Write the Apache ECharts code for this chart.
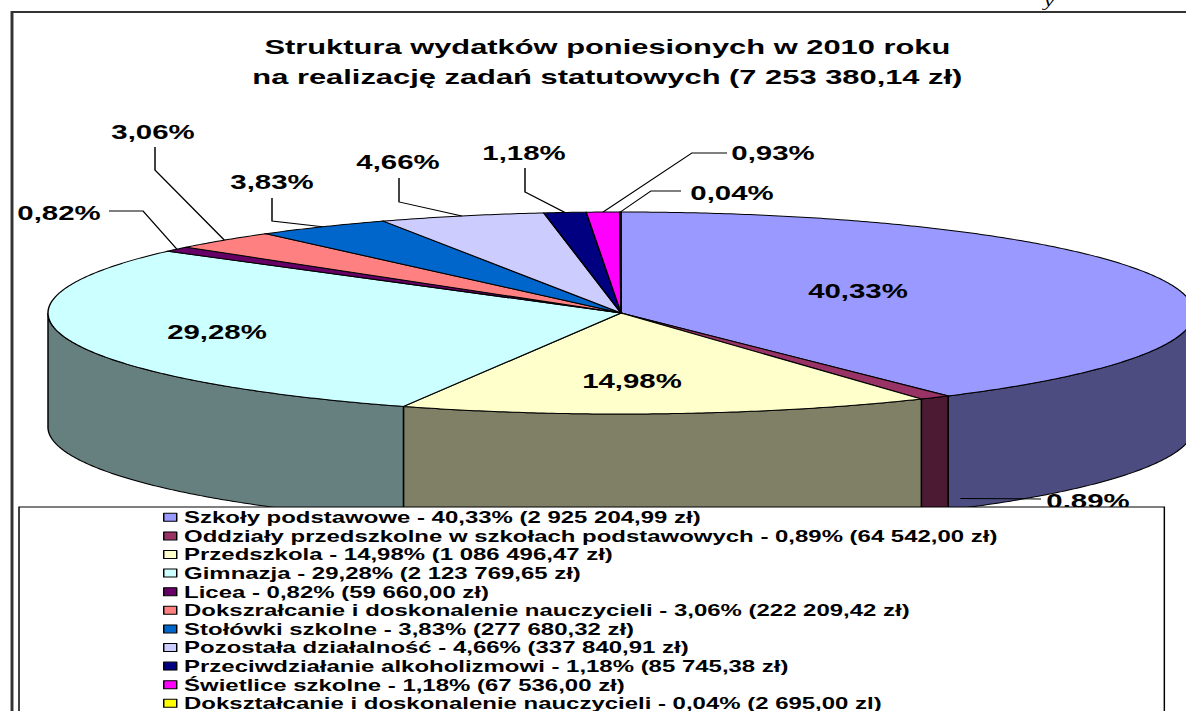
<!DOCTYPE html>
<html>
<head>
<meta charset="utf-8">
<script src="https://cdn.jsdelivr.net/npm/echarts@6/dist/echarts.min.js"></script>
<style>
html, body { margin: 0; padding: 0; background: #fff; overflow: hidden; }
/* the source picture is stretched sideways, so draw narrow and stretch */
#chart { width: 807px; height: 711px; transform: scaleX(1.47); transform-origin: 0 0; }
</style>
</head>
<body>
<div id="chart"></div>
<script>
var names = [
    'Szkoły podstawowe',
    'Oddziały przedszkolne w szkołach podstawowych',
    'Przedszkola',
    'Gimnazja',
    'Licea',
    'Dokszrałcanie i doskonalenie nauczycieli',
    'Stołówki szkolne',
    'Pozostała działalność',
    'Przeciwdziałanie alkoholizmowi',
    'Świetlice szkolne',
    'Dokształcanie i doskonalenie nauczycieli'
];
var amounts = [2925204.99, 64542.00, 1086496.47, 2123769.65, 59660.00, 222209.42,
    277680.32, 337840.91, 85745.38, 67536.00, 2695.00];
var legendLabels = [
    'Szkoły podstawowe - 40,33% (2 925 204,99 zł)',
    'Oddziały przedszkolne w szkołach podstawowych - 0,89% (64 542,00 zł)',
    'Przedszkola - 14,98% (1 086 496,47 zł)',
    'Gimnazja - 29,28% (2 123 769,65 zł)',
    'Licea - 0,82% (59 660,00 zł)',
    'Dokszrałcanie i doskonalenie nauczycieli - 3,06% (222 209,42 zł)',
    'Stołówki szkolne - 3,83% (277 680,32 zł)',
    'Pozostała działalność - 4,66% (337 840,91 zł)',
    'Przeciwdziałanie alkoholizmowi - 1,18% (85 745,38 zł)',
    'Świetlice szkolne - 1,18% (67 536,00 zł)',
    'Dokształcanie i doskonalenie nauczycieli - 0,04% (2 695,00 zl)'
];
var topColors = ['#9999FF', '#993366', '#FFFFCC', '#CCFFFF', '#660066', '#FF8080',
    '#0066CC', '#CCCCFF', '#000080', '#FF00FF', '#FFFF00'];
var sideColors = ['#4C4C80', '#4D1A33', '#808066', '#668080', '#330033', '#804040',
    '#003366', '#666680', '#000040', '#800080', '#808000'];

var SX = 1.47;
function X(x) { return x / SX; }

// label spots in screen pixels (text centre, then leader elbows)
var labelSpots = [
    { at: [858, 291] },
    { at: [1088, 501], path: [[1041, 499]], side: true },
    { at: [632, 381] },
    { at: [217, 332] },
    { at: [59, 213], path: [[109, 211], [143, 211]] },
    { at: [153, 132], path: [[155, 147], [155, 170]] },
    { at: [272, 182], path: [[272, 198], [272, 221]] },
    { at: [398, 162], path: [[399, 178], [399, 202]] },
    { at: [524, 153], path: [[525, 168], [525, 192]] },
    { at: [773, 153], path: [[727, 153], [692, 153]] },
    { at: [732, 193], path: [[681, 191], [651, 191]] }
];

var total = amounts.reduce(function (a, b) { return a + b; }, 0);
var startFrac = [];
var acc = 0;
amounts.forEach(function (v) { startFrac.push(acc / total); acc += v; });

var pie = { cx: X(621), cy: 313, rx: X(573), ry: 101, depth: 114 };

function pt(deg, dy) {
    var r = deg * Math.PI / 180;
    return [pie.cx + pie.rx * Math.sin(r), pie.cy - pie.ry * Math.cos(r) + (dy || 0)];
}
function arc(a0, a1, dy) {
    var pts = [];
    var n = Math.max(2, Math.ceil((a1 - a0) / 0.5));
    for (var i = 0; i <= n; i++) pts.push(pt(a0 + (a1 - a0) * i / n, dy));
    return pts;
}
function angles(i, v) {
    var a0 = startFrac[i] * 360;
    return [a0, a0 + v / total * 360];
}
function pct(v) {
    return (v / total * 100).toFixed(2).replace('.', ',') + '%';
}

var chart = echarts.init(document.getElementById('chart'), null, { renderer: 'svg' });

var option = {
    animation: false,
    backgroundColor: '#fff',
    title: {
        text: 'Struktura wydatków poniesionych w 2010 roku\nna realizację zadań statutowych (7 253 380,14 zł)',
        left: X(600),
        top: 27,
        textAlign: 'center',
        textStyle: {
            fontFamily: 'Liberation Sans',
            fontWeight: 'bold',
            fontSize: 21,
            lineHeight: 30,
            color: '#000'
        }
    },
    legend: {
        data: names,
        orient: 'vertical',
        left: X(19),
        top: 507,
        height: 300,
        padding: [1, 114, 40, X(163) - X(19)],
        itemWidth: X(13),
        itemHeight: 8,
        itemGap: 0,
        icon: 'rect',
        selectedMode: false,
        backgroundColor: '#fff',
        borderColor: '#000',
        borderWidth: 1,
        z: 10,
        itemStyle: { borderColor: '#000', borderWidth: 1 },
        textStyle: {
            fontFamily: 'Liberation Sans',
            fontWeight: 'bold',
            fontSize: 16.3,
            lineHeight: 18.6,
            color: '#000'
        },
        formatter: function (name) {
            return legendLabels[names.indexOf(name)];
        }
    },
    graphic: [{
        type: 'rect',
        z: 0,
        shape: { x: X(12), y: 12, width: 2000, height: 1000 },
        style: { fill: null, stroke: '#333', lineWidth: 2 }
    }, {
        type: 'text',
        z: 0,
        x: X(1044),
        y: -8,
        style: { text: 'y', font: 'italic 16px "Liberation Serif"', fill: '#000' }
    }],
    series: [{
        // only feeds the legend
        type: 'pie',
        radius: 0,
        center: [-50, -50],
        silent: true,
        label: { show: false },
        labelLine: { show: false },
        data: names.map(function (n, i) {
            return { name: n, value: amounts[i], itemStyle: { color: topColors[i] } };
        })
    }, {
        type: 'custom',
        name: 'sides',
        coordinateSystem: 'none',
        z: 1,
        silent: true,
        data: amounts,
        renderItem: function (params, api) {
            var i = params.dataIndex;
            var a = angles(i, api.value(0));
            var s = Math.max(a[0], 90), e = Math.min(a[1], 270);
            if (s >= e) return { type: 'group', children: [] };
            var pts = arc(s, e, 0).concat(arc(s, e, pie.depth).reverse());
            return {
                type: 'polygon',
                shape: { points: pts },
                style: { fill: sideColors[i], stroke: '#000', lineWidth: 1 }
            };
        }
    }, {
        type: 'custom',
        name: 'tops',
        coordinateSystem: 'none',
        z: 2,
        silent: true,
        data: amounts,
        renderItem: function (params, api) {
            var i = params.dataIndex;
            var a = angles(i, api.value(0));
            var pts = [[pie.cx, pie.cy]].concat(arc(a[0], a[1], 0));
            return {
                type: 'polygon',
                shape: { points: pts },
                style: { fill: topColors[i], stroke: '#000', lineWidth: 1 }
            };
        }
    }, {
        type: 'custom',
        name: 'labels',
        coordinateSystem: 'none',
        z: 3,
        silent: true,
        data: amounts,
        renderItem: function (params, api) {
            var i = params.dataIndex;
            var v = api.value(0);
            var a = angles(i, v);
            var spot = labelSpots[i];
            var children = [];
            if (spot.path) {
                var mid = (a[0] + a[1]) / 2;
                var end = spot.side ? pt(a[0] - 1.5, pie.depth - 10) : pt(mid, 0);
                var pts = spot.path.map(function (p) { return [X(p[0]), p[1]]; });
                pts.push(end);
                children.push({
                    type: 'polyline',
                    shape: { points: pts },
                    style: { fill: null, stroke: '#000', lineWidth: 1 }
                });
            }
            children.push({
                type: 'text',
                style: {
                    text: pct(v),
                    x: X(spot.at[0]),
                    y: spot.at[1],
                    font: 'bold 20px "Liberation Sans"',
                    fill: '#000',
                    align: 'center',
                    verticalAlign: 'middle',
                    textAlign: 'center',
                    textVerticalAlign: 'middle'
                }
            });
            return { type: 'group', children: children };
        }
    }]
};

chart.setOption(option);
</script>
</body>
</html>
